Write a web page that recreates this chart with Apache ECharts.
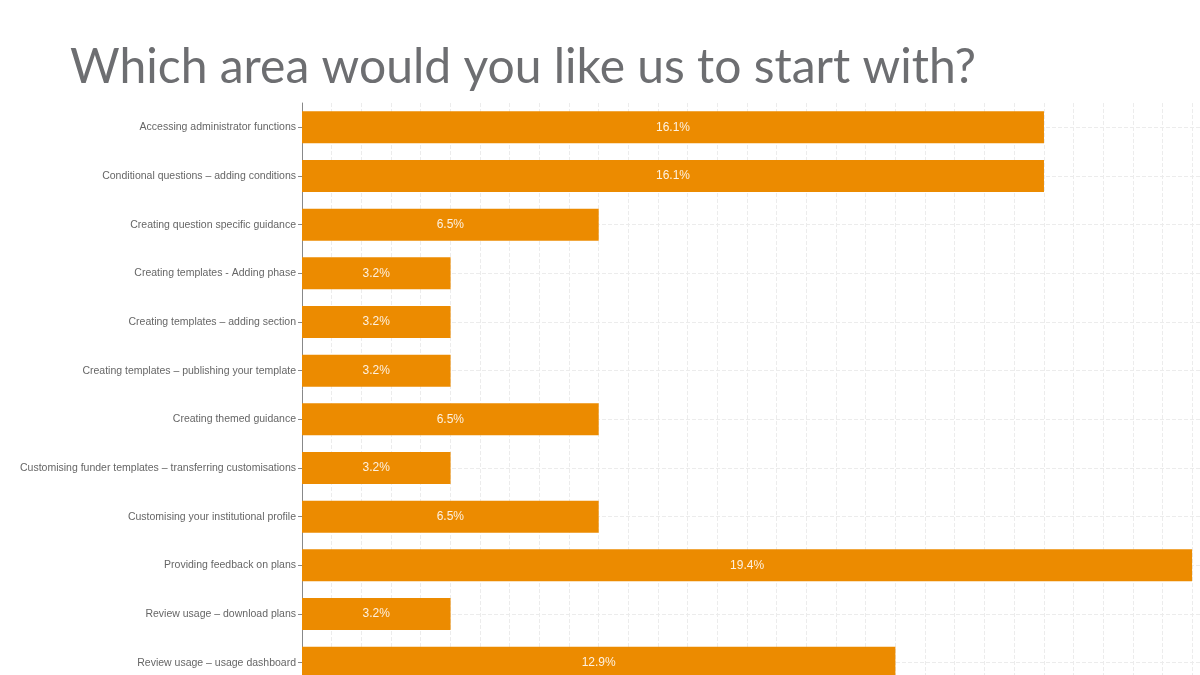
<!DOCTYPE html>
<html lang="en">
<head>
    <meta charset="UTF-8">
    <title>Which area would you like us to start with?</title>
    <script src="https://cdn.jsdelivr.net/npm/echarts@6/dist/echarts.min.js"></script>
    <style>
        html, body { margin: 0; padding: 0; background: #fff; }
        #chart { width: 1200px; height: 675px; }
    </style>
</head>
<body>
    <div id="chart"></div>
    <script>
        // categories, top to bottom
        const areas = [
            'Accessing administrator functions',
            'Conditional questions – adding conditions',
            'Creating question specific guidance',
            'Creating templates - Adding phase',
            'Creating templates – adding section',
            'Creating templates – publishing your template',
            'Creating themed guidance',
            'Customising funder templates – transferring customisations',
            'Customising your institutional profile',
            'Providing feedback on plans',
            'Review usage – download plans',
            'Review usage – usage dashboard'
        ];
        // share of responses, %
        const share = [16.13, 16.13, 6.45, 3.23, 3.23, 3.23, 6.45, 3.23, 6.45, 19.35, 3.23, 12.9];

        (function () {
            let myChart = echarts.init(document.getElementById('chart'));
            let option = {
                animation: false,
                title: {
                    text: 'Which area would you like us to start with?',
                    left: 65,
                    top: 39,
                    textStyle: {
                        fontFamily: 'Lato',
                        fontSize: 48,
                        fontWeight: 'normal',
                        color: '#6d6e71'
                    }
                },
                grid: {
                    left: 302,
                    top: 103,
                    width: 920,
                    height: 584,
                    outerBoundsMode: 'none'
                },
                xAxis: {
                    type: 'value',
                    min: 0,
                    max: 20,
                    interval: 0.645,
                    axisLabel: { show: false },
                    axisLine: { show: false },
                    axisTick: { show: false },
                    splitLine: {
                        show: true,
                        lineStyle: { color: '#ececec', type: 'dashed', width: 1 }
                    }
                },
                yAxis: {
                    type: 'category',
                    inverse: true,
                    data: areas,
                    axisLine: { show: true, lineStyle: { color: '#888', width: 1 } },
                    axisTick: { show: true, alignWithLabel: true, length: 4, lineStyle: { color: '#888' } },
                    axisLabel: {
                        margin: 6,
                        fontFamily: 'Liberation Sans',
                        fontSize: 10.5,
                        color: '#666'
                    },
                    splitLine: { show: false }
                },
                series: [
                    {
                        type: 'bar',
                        data: share,
                        barWidth: 32,
                        itemStyle: { color: '#ec8b00' },
                        label: {
                            show: true,
                            position: 'inside',
                            formatter: function (p) { return p.value.toFixed(1) + '%'; },
                            fontFamily: 'Liberation Sans',
                            fontSize: 12,
                            color: '#fdf1e0'
                        },
                        markLine: {
                            silent: true,
                            z: 1,
                            symbol: ['none', 'none'],
                            label: { show: false },
                            lineStyle: { color: '#ececec', type: 'dashed', width: 1 },
                            data: areas.map(function (a) { return { yAxis: a }; })
                        }
                    }
                ]
            };
            myChart.setOption(option);
        })()
    </script>
</body>
</html>
